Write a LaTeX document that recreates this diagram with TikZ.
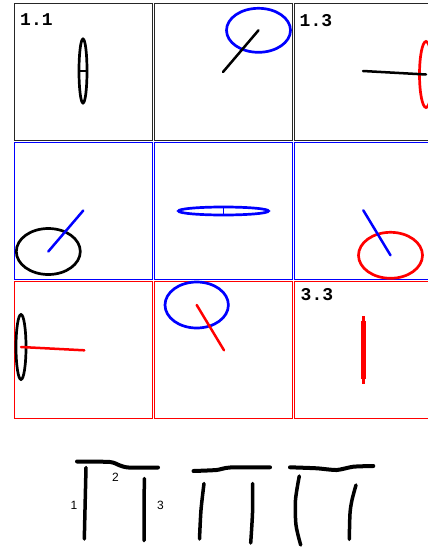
\documentclass[tikz,border=0pt]{standalone}
\usepackage{fontspec}
\newfontfamily\idxfont{Liberation Mono}
\newfontfamily\labfont{Liberation Sans}
\tikzset{
  panel/.style={draw=#1, line width=1pt},
  disc/.style={draw=#1, line width=2.7pt},
  stick/.style={draw=#1, line width=2.5pt, line cap=round},
  stroke/.style={draw=black, line width=4pt, line cap=round, line join=round},
  idx/.style={font=\idxfont\bfseries\fontsize{18}{18}\selectfont, anchor=base west, inner sep=0pt},
  lab/.style={font=\labfont\fontsize{12}{12}\selectfont, inner sep=0pt}
}
\begin{document}
\begin{tikzpicture}[x=1pt,y=-1pt]
\useasboundingbox (0,0) rectangle (428,549);
\fill[white] (0,0) rectangle (428,549);
\begin{scope}
\clip (0,0) rectangle (428,549);
% panel frames
\draw[panel=black!85] (14,3) rectangle (152,140);
\draw[panel=black!85] (154,3) rectangle (292,140);
\draw[panel=black!85] (294,3) rectangle (432,140);
\draw[panel=blue] (14,142) rectangle (152,279);
\draw[panel=blue] (154,142) rectangle (292,279);
\draw[panel=blue] (294,142) rectangle (432,279);
\draw[panel=red] (14,281) rectangle (152,418);
\draw[panel=red] (154,281) rectangle (292,418);
\draw[panel=red] (294,281) rectangle (432,418);

% labels
\node[idx] (t11) at (20,25) {1.1};
\node[idx] (t13) at (299.5,26.5) {1.3};
\node[idx] (t33) at (300.5,300.5) {3.3};

% panel 1.1
\coordinate (c11) at (83,71);
\draw[disc=black] (c11) ellipse (4 and 32);
\draw[draw=black, line width=1.3pt] ([xshift=-4pt]c11) -- ([xshift=4pt]c11);

% panel 1.2
\coordinate (c12) at (258.5,30.3);
\coordinate (e12) at (223,72);
\draw[disc=blue] (c12) ellipse (32 and 22);
\draw[stick=black] (c12) -- (e12);

% panel 1.3
\coordinate (c13) at (426,74.5);
\coordinate (e13) at (363,71);
\draw[disc=red] (c13) ellipse (6.5 and 33);
\draw[stick=black] (e13) -- (c13);

% panel 2.1
\coordinate (c21) at (48.3,251.5);
\coordinate (e21) at (83.3,210.5);
\draw[disc=black] (c21) ellipse (32 and 23);
\draw[stick=blue] (c21) -- (e21);

% panel 2.2
\coordinate (c22) at (223.5,211);
\draw[disc=blue] (c22) ellipse (45 and 4);
\draw[draw=blue, line width=1.3pt] ([yshift=-4pt]c22) -- ([yshift=4pt]c22);

% panel 2.3
\coordinate (c23) at (390.5,255.3);
\coordinate (e23) at (363.3,210.3);
\draw[disc=red] (c23) ellipse (32 and 23);
\draw[stick=blue] (c23) -- (e23);

% panel 3.1
\coordinate (c31) at (21,347);
\coordinate (e31) at (84.3,350.3);
\draw[disc=black] (c31) ellipse (5 and 32.5);
\draw[stick=red] (c31) -- (e31);

% panel 3.2
\coordinate (c32) at (196.7,305);
\coordinate (e32) at (224,350.3);
\draw[disc=blue] (c32) ellipse (31.7 and 23);
\draw[stick=red] (c32) -- (e32);

% panel 3.3
\coordinate (a33) at (363.3,316);
\coordinate (b33) at (363.3,384);
\coordinate (p33) at (363.3,321);
\coordinate (q33) at (363.3,379);
\draw[red, line width=3pt] (a33) -- (b33);
\draw[red, line width=5pt] (p33) -- (q33);
\end{scope}

% hand-drawn sketches
\draw[stroke] plot[smooth, tension=0.4] coordinates {(77,461.5) (110,462) (120,465.5) (128.5,467.5) (158,467.5)};
\draw[stroke, line width=3.5pt] (86,467.5) -- (84.3,539);
\draw[stroke, line width=3.5pt] (144.3,478.5) -- (144,540.5);
\node[lab] (l1) at (74,505.5) {1};
\node[lab] (l2) at (115.5,477.5) {2};
\node[lab] (l3) at (160.5,505) {3};

\draw[stroke] plot[smooth, tension=0.4] coordinates {(193.5,471) (216.5,470) (230,467.5) (270,467.3)};
\draw[stroke, line width=3.5pt] plot[smooth] coordinates {(204,483.5) (201,510) (199.5,539)};
\draw[stroke, line width=3.5pt] plot[smooth] coordinates {(252.7,483.5) (252.5,513) (250.7,543)};

\draw[stroke] plot[smooth, tension=0.4] coordinates {(290,467.3) (316.7,468.3) (336.7,470) (353.3,466.7) (373.3,466)};
\draw[stroke, line width=3.5pt] plot[smooth] coordinates {(299.3,476) (295.5,500) (296,525) (300.7,545)};
\draw[stroke, line width=3.5pt] plot[smooth] coordinates {(356,485) (352,500) (350,513.5) (349.3,539.3)};
\end{tikzpicture}
\end{document}
